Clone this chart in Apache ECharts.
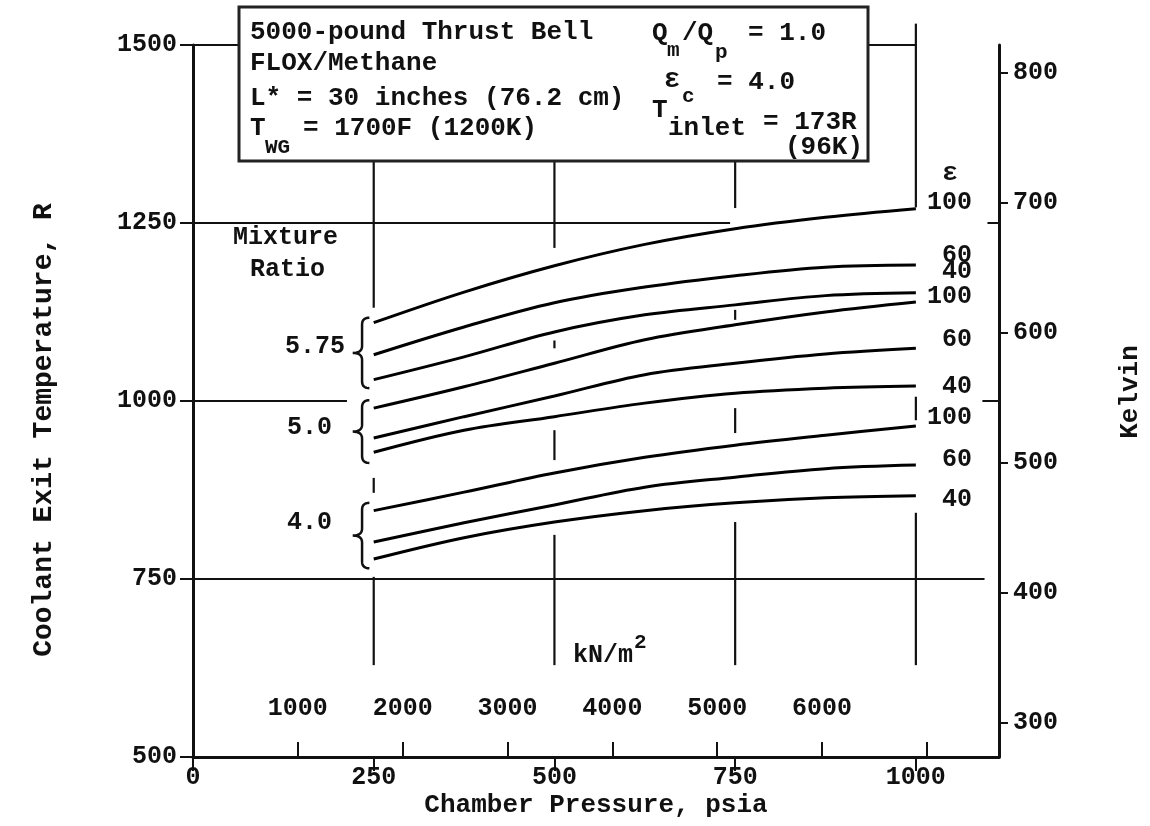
<!DOCTYPE html>
<html><head><meta charset="utf-8">
<script src="https://cdn.jsdelivr.net/npm/echarts@6/dist/echarts.min.js"></script>
<style>html,body{margin:0;padding:0;background:#fff}#c{width:1150px;height:826px}</style>
</head><body><div id="c"></div>
<script>
// ---- data ----
const pressurePsia = [250, 375, 500, 625, 750, 875, 1000];
const mr575_eps100 = [1110, 1153, 1190, 1220, 1242, 1258, 1270];
const mr575_eps60  = [1065, 1104, 1138, 1160, 1176, 1188, 1191];
const mr575_eps40  = [1030, 1062, 1097, 1121, 1135, 1148, 1152];
const mr50_eps100  = [990, 1020, 1053, 1086, 1107, 1125, 1139];
const mr50_eps60   = [948, 978, 1007, 1037, 1053, 1066, 1074];
const mr50_eps40   = [928, 959, 978, 997, 1011, 1018, 1021];
const mr40_eps100  = [846, 872, 899, 921, 938, 952, 965];
const mr40_eps60   = [802, 829, 854, 879, 893, 905, 910];
const mr40_eps40   = [778, 808, 830, 846, 857, 864, 867];

const psiaTicks   = [0, 250, 500, 750, 1000];
const tempTicksR  = [500, 750, 1000, 1250, 1500];
const kelvinTicks = [300, 400, 500, 600, 700, 800];
const kNTicks     = [1000, 2000, 3000, 4000, 5000, 6000, 7000];
const kNLabels    = [1000, 2000, 3000, 4000, 5000, 6000];

// partial grid lines (data units): vertical [psia, R from, R to], horizontal [R, psia from, psia to]
const vGrid = [[250,1337,1131],[250,892,871],[250,753,629],
               [500,1337,1215],[500,1085,1074],[500,959,917],[500,812,629],
               [750,1337,1271],[750,1128,1114],[750,990,955],[750,830,629],
               [1000,1530,1272],[1000,1006,973],[1000,843,629]];
const hGrid = [[1500,0,63],[1500,935,1000],[1250,0,743],[1000,0,213],[750,0,1095],
               [1250,1099,1115],[1000,1092,1115]];
// mixture-ratio braces [R top, R bottom]
const braces = [[1117,1018],[1001,913],[857,765]];

const PSIA_MAX = 1115;
const KN_PER_PSI = 6.894757;
const K_MIN = 273.8, K_MAX = 821.5;

const MONO = '"Liberation Mono", "DejaVu Sans Mono", monospace';
const GRID = {left:193, right:151, top:45, bottom:69};
const plain = v => String(Math.round(v));

function lineSeries(name, vals){
  return {type:'line', name, smooth:0.35, showSymbol:false, z:3,
    data: pressurePsia.map((p,i)=>[p, vals[i]]),
    lineStyle:{color:'#000', width:3}, itemStyle:{color:'#000'}};
}

function txt(text, x, y, opt){
  opt = opt || {};
  return {type:'text', z:120, x, y, rotation:opt.rot||0, style:{text, x:0, y:0,
    font:'bold ' + (opt.size||25) + 'px ' + MONO, fill:'#111',
    textAlign:opt.align||'left', textVerticalAlign:'middle',
    align:opt.align||'left', verticalAlign:'middle'}};
}

const chart = echarts.init(document.getElementById('c'), null, {renderer:'canvas'});
const axisFont = {color:'#111', fontFamily:MONO, fontWeight:'bold', fontSize:25};

chart.setOption({
  animation:false,
  backgroundColor:'#fff',
  grid:[Object.assign({}, GRID), Object.assign({}, GRID)],
  xAxis:[
    {type:'value', gridIndex:0, min:0, max:PSIA_MAX, position:'bottom',
     axisLine:{show:true, onZero:false, lineStyle:{color:'#111', width:3}},
     axisTick:{show:true, length:14, customValues:psiaTicks, lineStyle:{color:'#111', width:2}},
     axisLabel:Object.assign({margin:8, customValues:psiaTicks, formatter:plain}, axisFont),
     splitLine:{show:false}},
    {type:'value', gridIndex:1, min:0, max:PSIA_MAX*KN_PER_PSI, position:'bottom',
     axisLine:{show:false},
     axisTick:{show:true, inside:true, length:15, customValues:kNTicks, lineStyle:{color:'#111', width:2}},
     axisLabel:Object.assign({inside:true, margin:36, customValues:kNLabels, formatter:plain}, axisFont),
     splitLine:{show:false}}
  ],
  yAxis:[
    {type:'value', gridIndex:0, min:500, max:1500, interval:250, position:'left',
     axisLine:{show:true, onZero:false, lineStyle:{color:'#111', width:3}},
     axisTick:{show:true, length:13, lineStyle:{color:'#111', width:2}},
     axisLabel:Object.assign({margin:16, formatter:plain}, axisFont),
     splitLine:{show:false}},
    {type:'value', gridIndex:0, min:K_MIN, max:K_MAX, position:'right',
     axisLine:{show:true, onZero:false, lineStyle:{color:'#111', width:3}},
     axisTick:{show:true, length:9, customValues:kelvinTicks, lineStyle:{color:'#111', width:2}},
     axisLabel:Object.assign({margin:14, customValues:kelvinTicks, formatter:plain}, axisFont),
     splitLine:{show:false}},
    {type:'value', gridIndex:1, min:0, max:1, show:false}
  ],
  series:[
    lineSeries('5.75 e100', mr575_eps100),
    lineSeries('5.75 e60', mr575_eps60),
    lineSeries('5.75 e40', mr575_eps40),
    lineSeries('5.0 e100', mr50_eps100),
    lineSeries('5.0 e60', mr50_eps60),
    lineSeries('5.0 e40', mr50_eps40),
    lineSeries('4.0 e100', mr40_eps100),
    lineSeries('4.0 e60', mr40_eps60),
    lineSeries('4.0 e40', mr40_eps40),
    {type:'custom', name:'vgrid', xAxisIndex:0, yAxisIndex:0, clip:false, silent:true, z:1,
     data:vGrid,
     renderItem:function(params, api){
       const a = api.coord([api.value(0), api.value(1)]);
       const b = api.coord([api.value(0), api.value(2)]);
       return {type:'line', shape:{x1:a[0], y1:a[1], x2:b[0], y2:b[1]},
               style:{stroke:'#111', lineWidth:2.2}};
     }},
    {type:'custom', name:'hgrid', xAxisIndex:0, yAxisIndex:0, clip:false, silent:true, z:1,
     data:hGrid,
     renderItem:function(params, api){
       const a = api.coord([api.value(1), api.value(0)]);
       const b = api.coord([api.value(2), api.value(0)]);
       return {type:'line', shape:{x1:a[0], y1:a[1], x2:b[0], y2:b[1]},
               style:{stroke:'#111', lineWidth:2}};
     }},
    {type:'custom', name:'braces', xAxisIndex:0, yAxisIndex:0, clip:false, silent:true, z:2,
     data:braces,
     renderItem:function(params, api){
       const top = api.coord([244, api.value(0)]);
       const bot = api.coord([244, api.value(1)]);
       const cusp = api.coord([221, (api.value(0)+api.value(1))/2]);
       const xr = top[0], xl = cusp[0], xm = (xr + xl)/2 + 1;
       const yt = top[1], yb = bot[1], ym = cusp[1], r = 7;
       const pts = [];
       function quad(p0, p1, p2){
         for (let t = 0; t <= 1.0001; t += 0.1){
           const u = 1 - t;
           pts.push([u*u*p0[0] + 2*u*t*p1[0] + t*t*p2[0], u*u*p0[1] + 2*u*t*p1[1] + t*t*p2[1]]);
         }
       }
       quad([xr, yt], [xm, yt], [xm, yt + r]);
       quad([xm, ym - r], [xm, ym], [xl, ym]);
       quad([xl, ym], [xm, ym], [xm, ym + r]);
       quad([xm, yb - r], [xm, yb], [xr, yb]);
       return {type:'polyline', shape:{points:pts}, style:{stroke:'#111', lineWidth:2.5, fill:null}};
     }}
  ],
  graphic:[
    {type:'rect', z:100, shape:{x:239, y:7, width:629, height:154},
     style:{fill:'#fff', stroke:'#222', lineWidth:3}},
    txt('5000-pound Thrust Bell', 250, 32, {size:26}),
    txt('FLOX/Methane', 250, 63, {size:26}),
    txt('L* = 30 inches (76.2 cm)', 250, 98, {size:26}),
    txt('T', 250, 128, {size:26}),
    txt('WG', 265, 148, {size:21}),
    txt('= 1700F (1200K)', 303, 128, {size:26}),
    txt('Q', 652, 33, {size:26}),
    txt('m', 667, 51, {size:21}),
    txt('/Q', 682, 33, {size:26}),
    txt('p', 715, 53, {size:21}),
    txt('= 1.0', 748, 33, {size:26}),
    txt('\u03b5', 664, 80, {size:27}),
    txt('c', 682, 97, {size:21}),
    txt('= 4.0', 717, 82, {size:26}),
    txt('T', 652, 110, {size:26}),
    txt('inlet', 668, 128, {size:26}),
    txt('= 173R', 763, 122, {size:26}),
    txt('(96K)', 785, 147, {size:26}),
    txt('Mixture', 233, 238, {size:25}),
    txt('Ratio', 250, 270, {size:25}),
    txt('5.75', 345, 347, {align:'right'}),
    txt('5.0', 332, 428, {align:'right'}),
    txt('4.0', 332, 523, {align:'right'}),
    txt('\u03b5', 950, 173, {size:26, align:'center'}),
    txt('100', 972, 203, {align:'right'}),
    txt('60', 972, 256, {align:'right'}),
    txt('40', 972, 272, {align:'right'}),
    txt('100', 972, 297, {align:'right'}),
    txt('60', 972, 340, {align:'right'}),
    txt('40', 972, 387, {align:'right'}),
    txt('100', 972, 418, {align:'right'}),
    txt('60', 972, 460, {align:'right'}),
    txt('40', 972, 500, {align:'right'}),
    txt('kN/m', 573, 656, {size:25}),
    txt('2', 634, 643, {size:21}),
    txt('Chamber Pressure, psia', 596, 805, {size:26, align:'center'}),
    txt('Coolant Exit Temperature, R', 44, 430, {size:28, align:'center', rot:Math.PI/2}),
    txt('Kelvin', 1130, 392, {size:26, align:'center', rot:Math.PI/2})
  ]
});
</script>
</body></html>
